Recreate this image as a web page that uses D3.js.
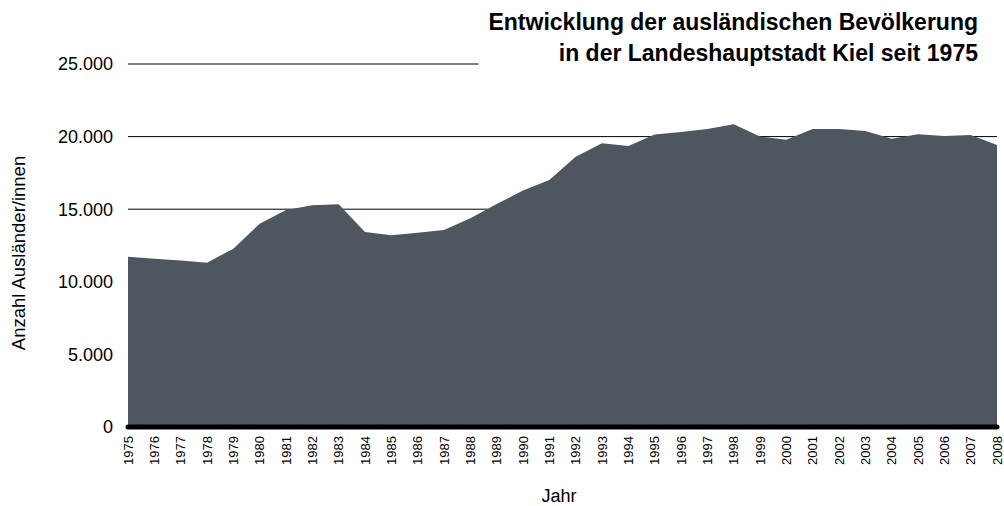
<!DOCTYPE html>
<html>
<head>
<meta charset="utf-8">
<script src="https://cdn.jsdelivr.net/npm/d3@7"></script>
<style>
  body { margin: 0; background: #fff; }
  text { font-family: "Liberation Sans", Arial, sans-serif; fill: #000; }
</style>
</head>
<body>
<div id="container"></div>
<script>
/* DATA */
const years = [1975, 1976, 1977, 1978, 1979, 1980, 1981, 1982, 1983, 1984, 1985, 1986,
  1987, 1988, 1989, 1990, 1991, 1992, 1993, 1994, 1995, 1996, 1997, 1998, 1999, 2000,
  2001, 2002, 2003, 2004, 2005, 2006, 2007, 2008];
const population = [11730, 11590, 11460, 11320, 12280, 14000, 14950, 15270, 15340, 13430,
  13200, 13380, 13570, 14370, 15350, 16280, 17010, 18620, 19540, 19350, 20150, 20320,
  20520, 20850, 20000, 19790, 20520, 20520, 20390, 19860, 20160, 20040, 20110, 19420];
const yTicks = [0, 5000, 10000, 15000, 20000, 25000];
const titleLines = ["Entwicklung der ausländischen Bevölkerung", "in der Landeshauptstadt Kiel seit 1975"];

/* CONSTANTS */
const width = 1004, height = 506;
const margin = { top: 64, right: 7, bottom: 79, left: 128 };
const innerW = width - margin.left - margin.right;
const innerH = height - margin.top - margin.bottom;

const svg = d3.select("#container")
  .append("svg")
  .attr("width", width)
  .attr("height", height);

const g = svg.append("g")
  .attr("transform", `translate(${margin.left},${margin.top})`);

const xScale = d3.scalePoint()
  .domain(years)
  .range([0, innerW]);

const yScale = d3.scaleLinear()
  .domain([0, 25000])
  .range([innerH, 0]);

const fmt = v => d3.format(",")(v).replace(/,/g, ".");

// gridlines + y labels
g.selectAll(".grid")
  .data(yTicks.filter(d => d > 0))
  .enter()
  .append("line")
  .attr("x1", 0)
  .attr("x2", innerW)
  .attr("y1", d => yScale(d))
  .attr("y2", d => yScale(d))
  .attr("stroke", "#000")
  .attr("stroke-width", 1);

g.selectAll(".ylab")
  .data(yTicks)
  .enter()
  .append("text")
  .attr("x", -15)
  .attr("y", d => yScale(d))
  .attr("dy", "0.35em")
  .attr("text-anchor", "end")
  .style("font-size", "18px")
  .text(fmt);

// area
const area = d3.area()
  .x((d, i) => xScale(years[i]))
  .y0(yScale(0))
  .y1(d => yScale(d));

g.append("path")
  .datum(population)
  .attr("d", area)
  .attr("fill", "#4e5760");

// baseline
g.append("line")
  .attr("x1", 0)
  .attr("x2", innerW)
  .attr("y1", yScale(0))
  .attr("y2", yScale(0))
  .attr("stroke", "#000")
  .attr("stroke-width", 5)
  .attr("stroke-linecap", "round");

// x labels
g.selectAll(".xlab")
  .data(years)
  .enter()
  .append("text")
  .attr("transform", d => `translate(${xScale(d)},${innerH + 9}) rotate(-90)`)
  .attr("dy", "0.35em")
  .attr("text-anchor", "end")
  .style("font-size", "13px")
  .text(d => d);

// axis titles
svg.append("text")
  .attr("transform", `translate(25,253) rotate(-90)`)
  .attr("text-anchor", "middle")
  .style("font-size", "18.5px")
  .text("Anzahl Ausländer/innen");

svg.append("text")
  .attr("x", 559)
  .attr("y", 502)
  .attr("text-anchor", "middle")
  .style("font-size", "18px")
  .text("Jahr");

// title with white backing
const title = svg.append("g");
title.selectAll("text")
  .data(titleLines)
  .enter()
  .append("text")
  .attr("x", 978)
  .attr("y", (d, i) => 29.5 + i * 31.5)
  .attr("text-anchor", "end")
  .style("font-size", "23px")
  .style("font-weight", "bold")
  .text(d => d);

const bb = title.node().getBBox();
title.insert("rect", "text")
  .attr("x", bb.x - 10)
  .attr("y", bb.y)
  .attr("width", width - bb.x + 10)
  .attr("height", bb.height)
  .attr("fill", "#fff");
</script>
</body>
</html>
